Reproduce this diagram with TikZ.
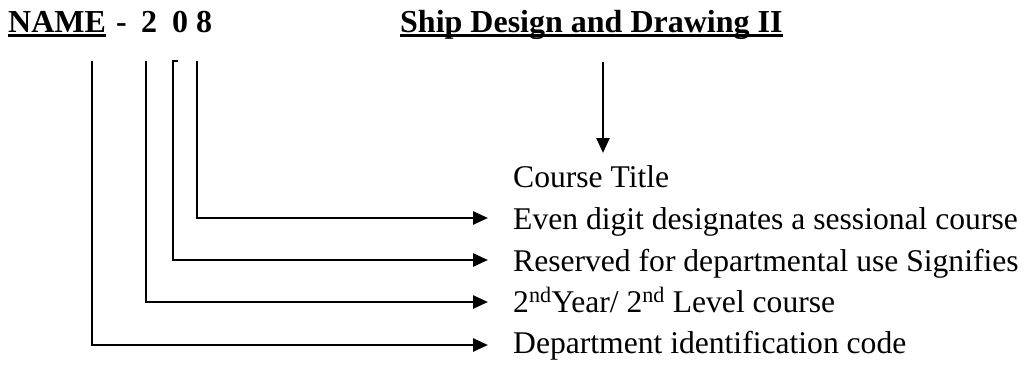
\documentclass[tikz,border=0pt]{standalone}
\usepackage{fontspec}
\setmainfont{Liberation Serif}
\usetikzlibrary{arrows.meta}
\begin{document}
\begin{tikzpicture}[x=1pt,y=-1pt,
  txt/.style={anchor=base west,inner sep=0pt,font=\fontsize{31.6}{38}\selectfont},
  head/.style={anchor=base west,inner sep=0pt,font=\fontsize{32}{38}\selectfont\bfseries},
  conn/.style={line width=2.5pt,-{Triangle[length=15pt,width=13pt]}},
  uline/.style={line width=3pt}]
\useasboundingbox (0,0) rectangle (1029,365);
% heading
\node[head] (name) at (8,32) {NAME};
\node[head] (dash) at (116,32) {-};
\node[head] (d2) at (141,32) {2};
\node[head] (d0) at (172,32) {0};
\node[head] (d8) at (196,32) {8};
\node[head] (title) at (400,32) {Ship Design and Drawing II};
\draw[uline] ([yshift=-3.5pt]name.base west) -- ([yshift=-3.5pt]name.base east);
\draw[uline] ([yshift=-3.5pt]title.base west) -- ([yshift=-3.5pt]title.base east);
% labels
\node[txt] (ct) at (513,187) {Course Title};
\node[txt] (ev) at (513,229) {Even digit designates a sessional course};
\node[txt] (rs) at (513,271) {Reserved for departmental use Signifies};
\node[txt] (yr) at (513,312) {2\textsuperscript{nd}Year/ 2\textsuperscript{nd} Level course};
\node[txt] (dp) at (513,353) {Department identification code};
% connector start and end points
\coordinate (top1) at (92,61);
\coordinate (top2) at (146,61);
\coordinate (hook3) at (178,61);
\coordinate (top3) at (173,61);
\coordinate (top4) at (197,61);
\coordinate (topT) at (603,62);
\coordinate (endT) at (603,153);
\coordinate (e4) at (488,218);
\coordinate (e3) at (488,260);
\coordinate (e2) at (488,302);
\coordinate (e1) at (488,345);
% connectors
\draw[conn] (topT) -- (endT);
\draw[conn] (top4) |- (e4);
\draw[conn] (hook3) -- (top3) |- (e3);
\draw[conn] (top2) |- (e2);
\draw[conn] (top1) |- (e1);
\end{tikzpicture}
\end{document}
